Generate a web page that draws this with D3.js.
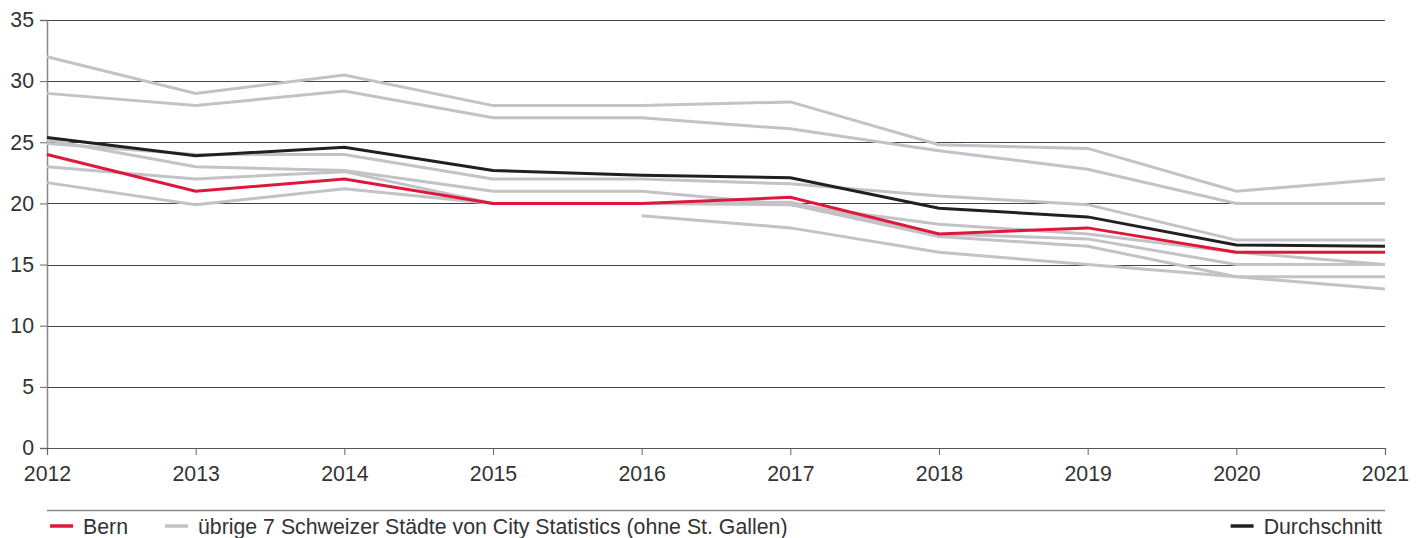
<!DOCTYPE html>
<html>
<head>
<meta charset="utf-8">
<script src="https://cdn.jsdelivr.net/npm/d3@7"></script>
<style>
  body { margin: 0; background: #fff; }
  text { font-family: "Liberation Sans", Arial, sans-serif; fill: #333; }
</style>
</head>
<body>
<div id="chart"></div>
<script>
var years = [2012, 2013, 2014, 2015, 2016, 2017, 2018, 2019, 2020, 2021];
var yTicks = [0, 5, 10, 15, 20, 25, 30, 35];

var bern =         [24.0, 21.0, 22.0, 20.0, 20.0, 20.5, 17.5, 18.0, 16.0, 16.0];
var durchschnitt = [25.4, 23.9, 24.6, 22.7, 22.3, 22.1, 19.6, 18.9, 16.6, 16.5];

// übrige 7 Städte (Namen im Original nicht beschriftet)
var stadt1 = [32.0, 29.0, 30.5, 28.0, 28.0, 28.3, 24.8, 24.5, 21.0, 22.0];
var stadt2 = [29.0, 28.0, 29.2, 27.0, 27.0, 26.1, 24.3, 22.8, 20.0, 20.0];
var stadt3 = [24.9, 24.0, 24.0, 22.0, 22.0, 21.6, 20.6, 19.9, 17.0, 17.0];
var stadt4 = [25.2, 23.0, 22.7, 21.0, 21.0, 19.9, 18.3, 17.5, 16.0, 15.0];
var stadt5 = [23.0, 22.0, 22.6, 20.0, 20.0, 20.1, 17.5, 17.1, 15.0, 15.0];
var stadt6 = [21.7, 19.9, 21.2, 20.0, 20.0, 19.9, 17.3, 16.5, 14.0, 14.0];
var stadt7 = [null, null, null, null, 19.0, 18.0, 16.0, 15.0, 14.0, 13.0];
var staedte = [stadt1, stadt2, stadt3, stadt4, stadt5, stadt6, stadt7];

var width = 1423, height = 538;
var margin = {top: 20, right: 38, bottom: 90, left: 47};
var fontSize = 21.3;

var svg = d3.select("#chart").append("svg")
  .attr("width", width)
  .attr("height", height);

var x = d3.scaleLinear()
  .domain([2012, 2021])
  .range([margin.left, width - margin.right]);

var y = d3.scaleLinear()
  .domain([0, 35])
  .range([height - margin.bottom, margin.top]);

// horizontal gridlines
svg.append("g")
  .selectAll("line")
  .data(yTicks.filter(function(d){ return d > 0; }))
  .enter()
  .append("line")
  .attr("x1", x(2012))
  .attr("x2", x(2021))
  .attr("y1", function(d){ return Math.round(y(d)) + 0.5; })
  .attr("y2", function(d){ return Math.round(y(d)) + 0.5; })
  .attr("stroke", "#444")
  .attr("stroke-width", 1);

// y axis
var yAxis = svg.append("g")
  .attr("transform", "translate(" + margin.left + ",0)")
  .call(d3.axisLeft(y).tickValues(yTicks).tickSize(7).tickPadding(6));
yAxis.select(".domain").attr("stroke", "#888").attr("stroke-width", 1.5);
yAxis.selectAll(".tick line").attr("stroke", "#666");
yAxis.selectAll("text").attr("font-size", fontSize).attr("fill", "#333");

// x axis
var xAxis = svg.append("g")
  .attr("transform", "translate(0," + y(0) + ")")
  .call(d3.axisBottom(x).tickValues(years).tickFormat(d3.format("d")).tickSize(7).tickPadding(11));
xAxis.select(".domain").attr("stroke", "#555").attr("stroke-width", 1.2);
xAxis.selectAll(".tick line").attr("stroke", "#666");
xAxis.selectAll("text").attr("font-size", fontSize).attr("fill", "#333");

var line = d3.line()
  .defined(function(d){ return d != null; })
  .x(function(d, i){ return x(years[i]); })
  .y(function(d){ return y(d); });

svg.append("g")
  .selectAll("path")
  .data(staedte)
  .enter()
  .append("path")
  .attr("d", line)
  .attr("fill", "none")
  .attr("stroke", "#c3c3c7")
  .attr("stroke-width", 3);

svg.append("path")
  .attr("d", line(durchschnitt))
  .attr("fill", "none")
  .attr("stroke", "#231f20")
  .attr("stroke-width", 3);

svg.append("path")
  .attr("d", line(bern))
  .attr("fill", "none")
  .attr("stroke", "#e0173a")
  .attr("stroke-width", 3);

// legend
var legendY = 526;
svg.append("line")
  .attr("x1", x(2012))
  .attr("x2", x(2021))
  .attr("y1", 510.5)
  .attr("y2", 510.5)
  .attr("stroke", "#888")
  .attr("stroke-width", 1.5);

var legend = [
  {label: "Bern", color: "#e0173a", x: 50},
  {label: "übrige 7 Schweizer Städte von City Statistics (ohne St. Gallen)", color: "#c3c3c7", x: 165}
];

legend.forEach(function(d){
  svg.append("line")
    .attr("x1", d.x).attr("x2", d.x + 23)
    .attr("y1", legendY).attr("y2", legendY)
    .attr("stroke", d.color).attr("stroke-width", 3.5);
  svg.append("text")
    .attr("x", d.x + 33)
    .attr("y", legendY + 8)
    .attr("font-size", fontSize)
    .text(d.label);
});

var avgText = svg.append("text")
  .attr("x", 1382)
  .attr("y", legendY + 8)
  .attr("font-size", fontSize)
  .attr("text-anchor", "end")
  .text("Durchschnitt");
var avgW = avgText.node().getComputedTextLength();
svg.append("line")
  .attr("x1", 1382 - avgW - 33).attr("x2", 1382 - avgW - 10)
  .attr("y1", legendY).attr("y2", legendY)
  .attr("stroke", "#231f20").attr("stroke-width", 3.5);
</script>
</body>
</html>
